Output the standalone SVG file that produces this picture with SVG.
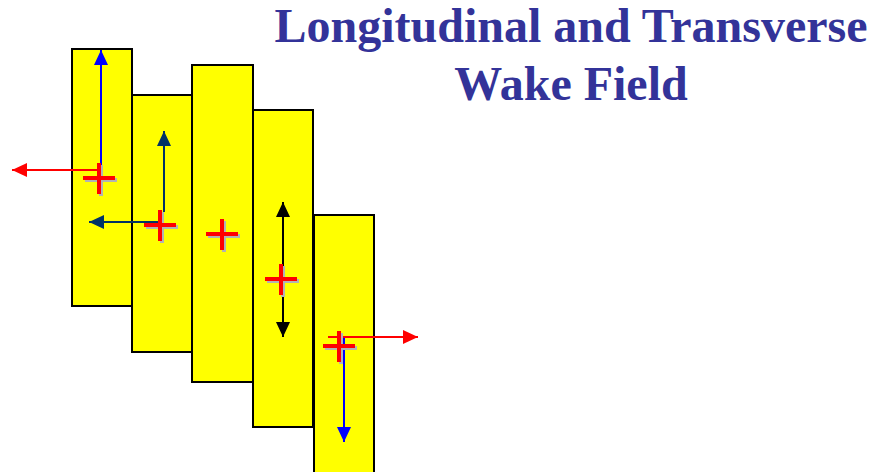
<svg xmlns="http://www.w3.org/2000/svg" width="892" height="472" viewBox="0 0 892 472">
<defs>
<style>
.plate{fill:#ffff00;stroke:#000;stroke-width:2}
.title{font-family:"Liberation Serif","Times New Roman",serif;font-weight:bold;font-size:48px;fill:#333399;text-anchor:middle}
.cr{stroke:#ff0000;stroke-width:4;fill:none}
.sh{stroke:#b3b3b3;stroke-width:4;fill:none}
</style>
<marker id="aBlue" markerUnits="userSpaceOnUse" markerWidth="16" markerHeight="16" viewBox="0 0 16 16" refX="15" refY="8" orient="auto"><path d="M0,1 L15,8 L0,15 Z" fill="#0000ff"/></marker>
<marker id="aRed" markerUnits="userSpaceOnUse" markerWidth="16" markerHeight="16" viewBox="0 0 16 16" refX="15" refY="8" orient="auto"><path d="M0,1 L15,8 L0,15 Z" fill="#ff0000"/></marker>
<marker id="aNavy" markerUnits="userSpaceOnUse" markerWidth="16" markerHeight="16" viewBox="0 0 16 16" refX="15" refY="8" orient="auto"><path d="M0,1 L15,8 L0,15 Z" fill="#003366"/></marker>
<marker id="aBlack" markerUnits="userSpaceOnUse" markerWidth="16" markerHeight="16" viewBox="0 0 16 16" refX="15" refY="8" orient="auto-start-reverse"><path d="M0,1 L15,8 L0,15 Z" fill="#000"/></marker>
</defs>
<g id="title">
<text class="title" x="571" y="42">Longitudinal and Transverse</text>
<text class="title" x="571" y="100">Wake Field</text>
</g>
<g id="plate1"><rect class="plate" x="72" y="49" width="60" height="257"/></g>
<g id="plate2"><rect class="plate" x="132" y="95" width="60" height="257"/></g>
<g id="plate3"><rect class="plate" x="192" y="65" width="61" height="317"/></g>
<g id="plate4"><rect class="plate" x="253" y="110" width="60" height="317"/></g>
<g id="plate5"><rect class="plate" x="314" y="215" width="60" height="262"/></g>
<g id="connectors">
<line x1="101" y1="165" x2="101" y2="50" stroke="#0000ff" stroke-width="2" marker-end="url(#aBlue)"/>
<line x1="99" y1="170" x2="12" y2="170" stroke="#ff0000" stroke-width="2" marker-end="url(#aRed)"/>
<line x1="164" y1="212" x2="164" y2="131" stroke="#003366" stroke-width="2" marker-end="url(#aNavy)"/>
<line x1="160" y1="222" x2="89" y2="222" stroke="#003366" stroke-width="2" marker-end="url(#aNavy)"/>
<line x1="283" y1="202" x2="283" y2="337" stroke="#000" stroke-width="2" marker-start="url(#aBlack)" marker-end="url(#aBlack)"/>
<line x1="344" y1="337" x2="344" y2="442" stroke="#0000ff" stroke-width="2" marker-end="url(#aBlue)"/>
<line x1="328" y1="337" x2="418" y2="337" stroke="#ff0000" stroke-width="2" marker-end="url(#aRed)"/>
</g>
<g id="cross1"><path class="sh" d="M85,180 H117 M101,165 V196"/><path class="cr" d="M83,178 H115 M99,163 V194"/></g>
<g id="cross2"><path class="sh" d="M146,227 H178 M162,212 V243"/><path class="cr" d="M144,225 H176 M160,210 V241"/></g>
<g id="cross3"><path class="sh" d="M208,236 H240 M224,221 V252"/><path class="cr" d="M206,234 H238 M222,219 V250"/></g>
<g id="cross4"><path class="sh" d="M267,281 H299 M283,266 V297"/><path class="cr" d="M265,279 H297 M281,264 V295"/></g>
<g id="cross5"><path class="sh" d="M325,348 H357 M341,333 V364"/><path class="cr" d="M323,346 H355 M339,331 V362"/></g>
</svg>
